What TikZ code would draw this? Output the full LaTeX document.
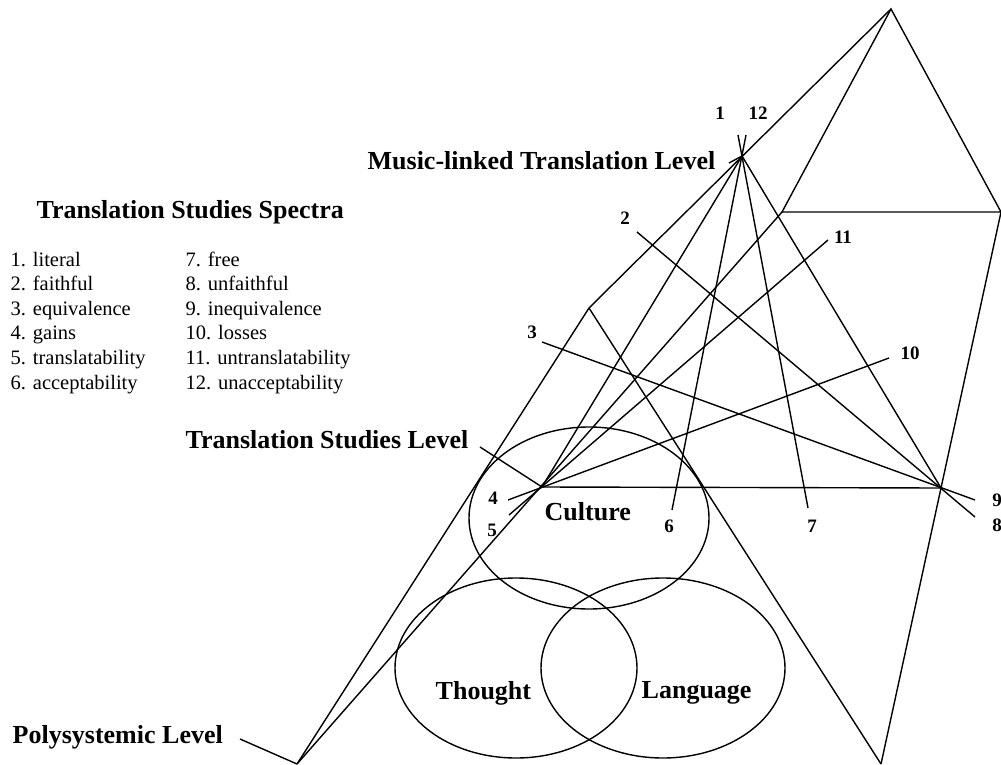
\documentclass[tikz,border=0pt]{standalone}
\usepackage{fontspec}
\setmainfont{Liberation Serif}
\begin{document}
\begin{tikzpicture}[x=1pt,y=-1pt,line width=1.4pt,
  heading/.style={font=\fontsize{26}{30}\selectfont\bfseries,inner sep=0pt},
  circlabel/.style={font=\fontsize{26}{30}\selectfont\bfseries,inner sep=0pt},
  numlabel/.style={font=\fontsize{19}{22}\selectfont\bfseries,inner sep=0pt},
  listitem/.style={font=\fontsize{20.5}{24}\selectfont,inner sep=0pt,anchor=base west}]
\useasboundingbox (0,0) rectangle (1001,765);
% key points
\coordinate (T) at (891,9);
\coordinate (B) at (782,212);
\coordinate (D) at (1001,212);
\coordinate (M) at (742,156);
\coordinate (P1) at (589,308);
\coordinate (C) at (542,487);
\coordinate (R) at (941,488);
\coordinate (PV) at (297,764);
\coordinate (BR) at (881,764);
% ellipses
\draw (589,518) ellipse [x radius=120, y radius=91];
\draw (516,668) ellipse [x radius=121, y radius=90];
\draw (663,668) ellipse [x radius=122, y radius=90];
% frame
\draw (T) -- (B) -- (D) -- cycle;
\draw (T) -- (P1) -- (PV);
\draw (P1) -- (BR);
\draw (B) -- (PV);
\draw (D) -- (BR);
\draw (C) -- (R);
\draw (M) -- (C);
\draw (M) -- (R);
% spectrum line ends
\coordinate (e1) at (738,135);
\coordinate (e7) at (808,508);
\coordinate (e12) at (746,135);
\coordinate (e6) at (672,510);
\coordinate (e2) at (637,232);
\coordinate (e8) at (975,517);
\coordinate (e3) at (542,342);
\coordinate (e9) at (975,500);
\coordinate (e4) at (508,500);
\coordinate (e10) at (889,358);
\coordinate (e5) at (509,515);
\coordinate (e11) at (828,240);
\draw (e1) -- (e7);
\draw (e12) -- (e6);
\draw (e2) -- (e8);
\draw (e3) -- (e9);
\draw (e4) -- (e10);
\draw (e5) -- (e11);
% number labels
\node[numlabel] (n1) at (720,113) {1};
\node[numlabel] (n12) at (758,113) {12};
\node[numlabel] (n2) at (625,218) {2};
\node[numlabel] (n11) at (843,237) {11};
\node[numlabel] (n3) at (532,332) {3};
\node[numlabel] (n10) at (910,353) {10};
\node[numlabel] (n4) at (493,498) {4};
\node[numlabel] (n5) at (492,530) {5};
\node[numlabel] (n6) at (669,526) {6};
\node[numlabel] (n7) at (812,526) {7};
\node[numlabel] (n9) at (997,500) {9};
\node[numlabel] (n8) at (997,525) {8};
% level labels
\node[heading,anchor=east] (music) at (716,161) {Music-linked Translation Level};
\coordinate (musicend) at (729,163);
\draw (musicend) -- (M);
\node[heading,anchor=east] (tsl) at (469,440) {Translation Studies Level};
\coordinate (tslend) at (480,447);
\draw (tslend) -- (C);
\node[heading,anchor=west] (poly) at (12,737) {Polysystemic Level};
\coordinate (polyend) at (240,739);
\draw (polyend) -- (PV);
% circle labels
\node[circlabel,anchor=west] (culture) at (544,512) {Culture};
\node[circlabel,anchor=west] (thought) at (435,693) {Thought};
\node[circlabel,anchor=west] (language) at (641,693) {Language};
% spectra list
\node[heading,anchor=base west] (title) at (36,218) {Translation Studies Spectra};
\node[listitem] (i1) at (10,266) {1. literal};
\node[listitem] (i2) at (10,290.6) {2. faithful};
\node[listitem] (i3) at (10,315.2) {3. equivalence};
\node[listitem] (i4) at (10,339.8) {4. gains};
\node[listitem] (i5) at (10,364.4) {5. translatability};
\node[listitem] (i6) at (10,389) {6. acceptability};
\node[listitem] (i7) at (185,266) {7. free};
\node[listitem] (i8) at (185,290.6) {8. unfaithful};
\node[listitem] (i9) at (185,315.2) {9. inequivalence};
\node[listitem] (i10) at (185,339.8) {10. losses};
\node[listitem] (i11) at (185,364.4) {11. untranslatability};
\node[listitem] (i12) at (185,389) {12. unacceptability};
\end{tikzpicture}
\end{document}
